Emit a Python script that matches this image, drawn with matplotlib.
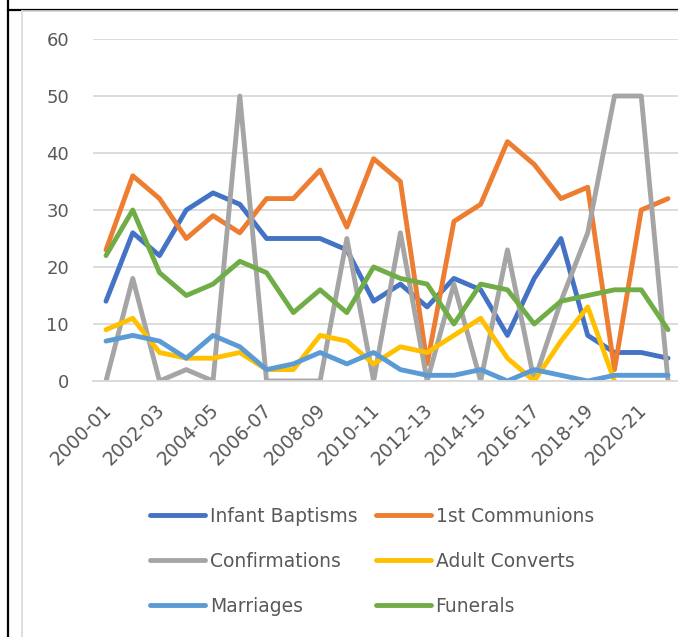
import numpy as np
import matplotlib.pyplot as plt
import matplotlib.transforms as mtransforms
from matplotlib.lines import Line2D

years = ['2000-01', '2001-02', '2002-03', '2003-04', '2004-05', '2005-06',
         '2006-07', '2007-08', '2008-09', '2009-10', '2010-11', '2011-12',
         '2012-13', '2013-14', '2014-15', '2015-16', '2016-17', '2017-18',
         '2018-19', '2019-20', '2020-21', '2021-22']

infant_baptisms = [14, 26, 22, 30, 33, 31, 25, 25, 25, 23, 14, 17, 13, 18, 16, 8, 18, 25, 8, 5, 5, 4]
first_communions = [23, 36, 32, 25, 29, 26, 32, 32, 37, 27, 39, 35, 3, 28, 31, 42, 38, 32, 34, 2, 30, 32]
confirmations = [0, 18, 0, 2, 0, 50, 0, 0, 0, 25, 0, 26, 0, 17, 0, 23, 0, 14, 26, 50, 50, 0]
adult_converts = [9, 11, 5, 4, 4, 5, 2, 2, 8, 7, 3, 6, 5, 8, 11, 4, 0, 7, 13, 0, np.nan, np.nan]
marriages = [7, 8, 7, 4, 8, 6, 2, 3, 5, 3, 5, 2, 1, 1, 2, 0, 2, 1, 0, 1, 1, 1]
funerals = [22, 30, 19, 15, 17, 21, 19, 12, 16, 12, 20, 18, 17, 10, 17, 16, 10, 14, 15, 16, 16, 9]

series = [
    ('Infant Baptisms', infant_baptisms, '#4472C4'),
    ('1st Communions', first_communions, '#ED7D31'),
    ('Confirmations', confirmations, '#A5A5A5'),
    ('Adult Converts', adult_converts, '#FFC000'),
    ('Marriages', marriages, '#5B9BD5'),
    ('Funerals', funerals, '#70AD47'),
]

text_color = '#595959'
grid_color = '#D9D9D9'

fig = plt.figure(figsize=(6.78, 6.37), dpi=100)
ax = fig.add_axes([92.6 / 678, 1 - 381 / 637, 588.8 / 678, 342 / 637])

x = np.arange(len(years))
handles = {}
for name, vals, color in series:
    line, = ax.plot(x, vals, color=color, lw=3.5, solid_capstyle='round',
                    solid_joinstyle='round', label=name)
    handles[name] = line

ax.set_xlim(-0.5, len(years) - 0.5)
ax.set_ylim(0, 60)
ax.set_yticks(range(0, 61, 10))
ax.yaxis.grid(True, color=grid_color, lw=1.3)
ax.set_axisbelow(True)
for s in ['top', 'right', 'left']:
    ax.spines[s].set_visible(False)
ax.spines['bottom'].set_color(grid_color)
ax.spines['bottom'].set_linewidth(1.3)
ax.tick_params(axis='y', length=0, pad=17, labelsize=13, labelcolor=text_color)
ax.tick_params(axis='x', length=0, pad=14, labelsize=13.5, labelcolor=text_color)
ax.set_xticks(x[::2])
ax.set_xticklabels(years[::2], rotation=45, ha='right', va='top',
                   rotation_mode='anchor')
shift = mtransforms.ScaledTranslation(-4 / 100, 0, fig.dpi_scale_trans)
for lbl in ax.get_xticklabels():
    lbl.set_transform(lbl.get_transform() + shift)

order = ['Infant Baptisms', 'Confirmations', 'Marriages',
         '1st Communions', 'Adult Converts', 'Funerals']
leg = fig.legend([handles[n] for n in order], order, ncol=2,
                 loc='upper center', bbox_to_anchor=(372 / 678, 1 - 490 / 637),
                 frameon=False, fontsize=13.5, handlelength=2.95,
                 handletextpad=0.25, columnspacing=0.95, labelspacing=1.38,
                 labelcolor=text_color)

# outer frame lines
fig.add_artist(Line2D([7.5 / 678, 7.5 / 678], [0, 1], color='black', lw=1.6,
                      transform=fig.transFigure))
fig.add_artist(Line2D([7.5 / 678, 1], [1 - 10 / 637, 1 - 10 / 637], color='black',
                      lw=1.6, transform=fig.transFigure))
fig.add_artist(Line2D([21.5 / 678, 21.5 / 678], [0, 1 - 11 / 637], color=grid_color,
                      lw=1.2, transform=fig.transFigure))
fig.add_artist(Line2D([21.5 / 678, 1], [1 - 11 / 637, 1 - 11 / 637], color=grid_color,
                      lw=1.2, transform=fig.transFigure))

fig.savefig('out.png', dpi=100)
